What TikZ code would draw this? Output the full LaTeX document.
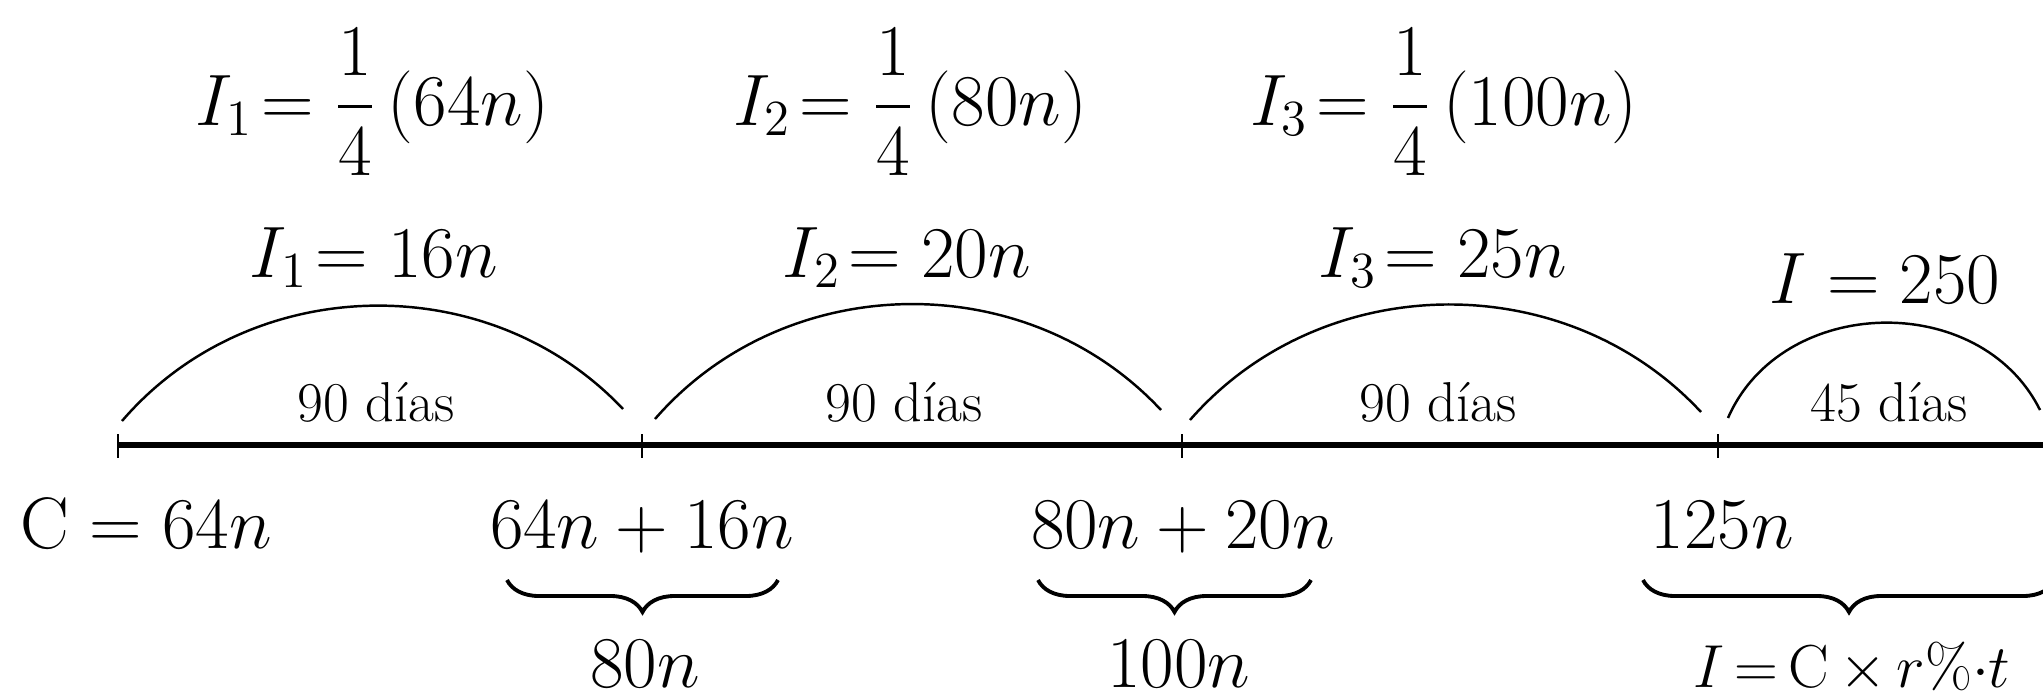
\documentclass[tikz,border=0pt]{standalone}
\usepackage{amsmath}
\usetikzlibrary{decorations.pathreplacing}
\begin{document}
\begin{tikzpicture}[scale=1,
		lbl/.style={inner sep=0pt, anchor=base, font=\fontsize{20}{24}\selectfont},
		dias/.style={inner sep=0pt, anchor=base, font=\fontsize{16}{19}\selectfont},
		llave/.style={decorate, decoration={brace, mirror, amplitude=0.32cm}, line width=1.1pt}]
	\useasboundingbox (0,-2.53) rectangle (20.43,4.45);
	% eje de tiempo
	\foreach \x [count=\i] in {1.18, 6.42, 11.82, 17.18} {
			\coordinate (t\i) at (\x,0);
			\draw[line width=0.6pt] (\x,0.11) -- (\x,-0.13);
		}
	\coordinate (fin) at (20.43,0);
	\draw[line width=1.8pt] (t1) -- (fin);
	% arcos
	\coordinate (s1) at (1.22,0.24); \coordinate (e1) at (6.23,0.36);
	\coordinate (s2) at (6.55,0.26); \coordinate (e2) at (11.61,0.35);
	\coordinate (s3) at (11.90,0.25); \coordinate (e3) at (17.01,0.33);
	\coordinate (s4) at (17.28,0.27); \coordinate (e4) at (20.40,0.35);
	\foreach \i in {1,2,3} {
			\draw[line width=0.7pt] (s\i) to[bend left=48] (e\i);
		}
	\draw[line width=0.7pt] (s4) to[bend left=65, looseness=1.1] (e4);
	\node[dias] (d1) at (3.76,0.24) {90 días};
	\node[dias] (d2) at (9.04,0.24) {90 días};
	\node[dias] (d3) at (14.38,0.24) {90 días};
	\node[dias] (d4) at (18.89,0.24) {45 días};
	% intereses
	\node[lbl] (f1) at (3.72,3.20) {$\displaystyle I_1\!=\frac{1}{4}\,(64n)$};
	\node[lbl] (f2) at (9.10,3.20) {$\displaystyle I_2\!=\frac{1}{4}\,(80n)$};
	\node[lbl] (f3) at (14.44,3.20) {$\displaystyle I_3\!=\frac{1}{4}\,(100n)$};
	\node[lbl] (i1) at (3.74,1.68) {$I_1\!=16n$};
	\node[lbl] (i2) at (9.07,1.68) {$I_2\!=20n$};
	\node[lbl] (i3) at (14.43,1.68) {$I_3\!=25n$};
	\node[lbl] (i4) at (18.85,1.42) {$I=250$};
	% montos
	\node[lbl, anchor=base west] (m0) at (0.20,-1.03) {$\mathrm{C}=64n$};
	\node[lbl] (m1) at (6.42,-1.03) {$64n+16n$};
	\node[lbl] (m2) at (11.83,-1.03) {$80n+20n$};
	\node[lbl, anchor=base west] (m3) at (16.50,-1.03) {$125n$};
	\coordinate (a1) at (5.07,-1.35); \coordinate (b1) at (7.78,-1.35);
	\coordinate (a2) at (10.38,-1.35); \coordinate (b2) at (13.11,-1.35);
	\coordinate (a3) at (16.43,-1.35); \coordinate (b3) at (20.55,-1.35);
	\foreach \i in {1,2,3} {
			\draw[llave] (a\i) -- (b\i);
		}
	\node[lbl] (r1) at (6.45,-2.42) {$80n$};
	\node[lbl] (r2) at (11.79,-2.42) {$100n$};
	\node[lbl, font=\fontsize{19}{23}\selectfont] (r3) at (18.52,-2.42) {$I\,{=}\,\mathrm{C}\,{\times}\,r\%{\cdot}t$};
\end{tikzpicture}
\end{document}
